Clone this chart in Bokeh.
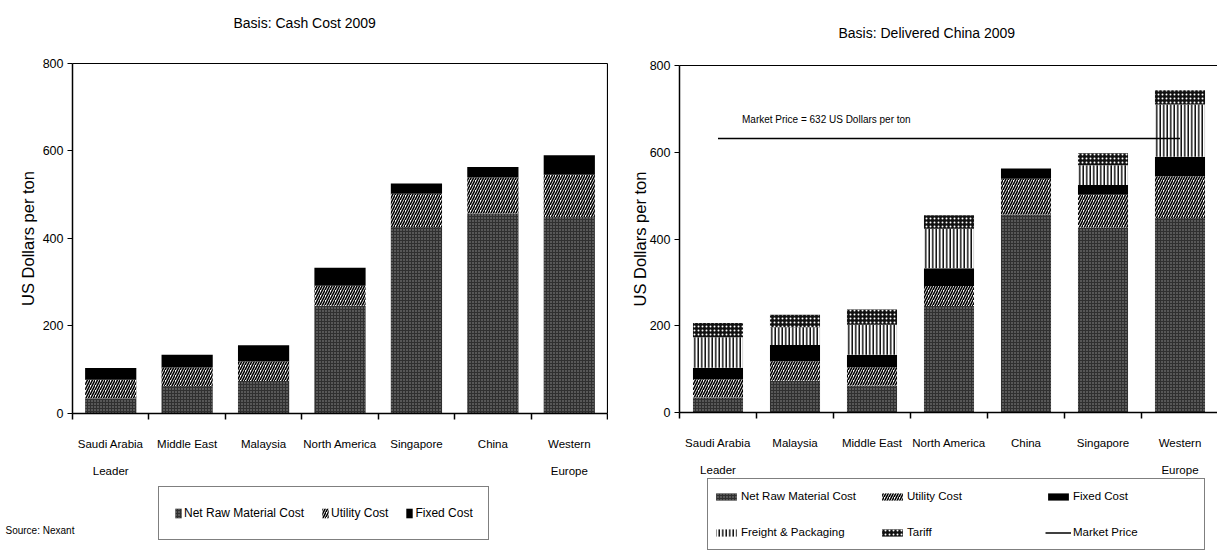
from bokeh.plotting import figure
from bokeh.models import (ColumnDataSource, FixedTicker, Legend, LegendItem,
                          Label, Range1d, LinearAxis)
from bokeh.layouts import row
from bokeh.embed import file_html
from bokeh.resources import INLINE

FONT = "Liberation Sans"

# ---------------- data: left chart (Basis: Cash Cost 2009) ----------------
left_title = "Basis: Cash Cost 2009"
left_categories = ["Saudi Arabia\nLeader", "Middle East", "Malaysia", "North America",
                   "Singapore", "China", "Western\nEurope"]
left_net_raw = [35, 63, 74, 246, 426, 457, 449]
left_utility = [42, 42, 45, 46, 76, 82, 96]
left_fixed = [27, 29, 37, 41, 23, 24, 45]

# ---------------- data: right chart (Basis: Delivered China 2009) ----------------
right_title = "Basis: Delivered China 2009"
right_categories = ["Saudi Arabia\nLeader", "Malaysia", "Middle East", "North America",
                    "China", "Singapore", "Western\nEurope"]
right_net_raw = [35, 74, 63, 246, 457, 426, 449]
right_utility = [42, 45, 42, 46, 82, 76, 96]
right_fixed = [27, 37, 29, 41, 24, 23, 45]
right_freight = [70, 41, 69, 91, 0, 45, 120]
right_tariff = [33, 29, 35, 31, 0, 28, 33]
market_price = 632

y_ticks = [0, 200, 400, 600, 800]
y_max = 800
y_label = "US Dollars per ton"
source_text = "Source: Nexant"

series_names = ["Net Raw Material Cost", "Utility Cost", "Fixed Cost",
                "Freight & Packaging", "Tariff"]

STY = {
    "Net Raw Material Cost": dict(fill_color="#303030", hatch_pattern="dot",
                                  hatch_color="#949494", hatch_scale=3, hatch_weight=1),
    "Utility Cost": dict(fill_color="white", hatch_pattern="right_diagonal_line",
                         hatch_color="black", hatch_scale=5, hatch_weight=1.6),
    "Fixed Cost": dict(fill_color="black", hatch_pattern="blank",
                       hatch_color="black", hatch_scale=5, hatch_weight=1),
    "Freight & Packaging": dict(fill_color="white", hatch_pattern="vertical_line",
                                hatch_color="black", hatch_scale=3.5, hatch_weight=1.4),
    "Tariff": dict(fill_color="#111111", hatch_pattern="dot",
                   hatch_color="white", hatch_scale=4, hatch_weight=1),
}


def make_fig(width, height, ax_left, px_per_cat, zero_px, top_px, n):
    """Frame covers the whole figure; axes are drawn at fixed locations."""
    px_per_unit = (zero_px - top_px) / y_max
    x0 = -0.5 - ax_left / px_per_cat
    x1 = -0.5 + (width - ax_left) / px_per_cat
    y1 = zero_px / px_per_unit
    y0 = -(height - zero_px) / px_per_unit
    p = figure(width=width, height=height, title=None,
               min_border_left=0, min_border_right=0, min_border_top=0,
               min_border_bottom=0, x_range=Range1d(x0, x1), y_range=Range1d(y0, y1),
               output_backend="svg", toolbar_location=None)
    p.xgrid.visible = False
    p.ygrid.visible = False
    p.outline_line_color = None
    p.background_fill_color = "white"
    p.border_fill_color = "white"
    return p, x1


def style_axes(p, labels, title_standoff):
    n = len(labels)
    ax = p.xaxis[0]
    ax.fixed_location = 0
    ax.bounds = (-0.5, n - 0.5)
    ax.ticker = FixedTicker(ticks=list(range(n)),
                            minor_ticks=[i - 0.5 for i in range(n + 1)])
    ax.major_label_overrides = {i: lab for i, lab in enumerate(labels)}
    ax.major_tick_line_color = None
    ax.major_tick_out = 0
    ax.major_tick_in = 0
    ax.minor_tick_line_color = "black"
    ax.minor_tick_line_width = 1.5
    ax.minor_tick_out = 6
    ax.minor_tick_in = 0
    ax.axis_line_color = "black"
    ax.axis_line_width = 1.5
    ax.major_label_standoff = 18
    ax.major_label_text_font = FONT
    ax.major_label_text_font_size = "11.5px"
    ax.major_label_text_color = "black"
    ax.major_label_text_line_height = 2.3

    ay = p.yaxis[0]
    ay.fixed_location = -0.5
    ay.bounds = (0, y_max)
    ay.ticker = FixedTicker(ticks=y_ticks)
    ay.minor_tick_line_color = None
    ay.major_tick_out = 5
    ay.major_tick_in = 0
    ay.major_tick_line_color = "black"
    ay.major_tick_line_width = 1.2
    ay.axis_line_color = "black"
    ay.axis_line_width = 1.5
    ay.major_label_standoff = 4
    ay.major_label_text_font = FONT
    ay.major_label_text_font_size = "12.5px"
    ay.major_label_text_color = "black"
    ay.axis_label = y_label
    ay.axis_label_text_font = FONT
    ay.axis_label_text_font_size = "16.5px"
    ay.axis_label_text_font_style = "normal"
    ay.axis_label_text_color = "black"
    ay.axis_label_standoff = title_standoff


def border_axis(p, side, loc, bounds):
    a = LinearAxis(fixed_location=loc, bounds=bounds, ticker=FixedTicker(ticks=[]),
                   major_tick_line_color=None, minor_tick_line_color=None,
                   major_label_text_font_size="0px", axis_line_color="black",
                   axis_line_width=1.2)
    p.add_layout(a, side)


def stack(p, names, data, width):
    src = ColumnDataSource(dict(x=list(range(len(data[0]))),
                                **{nm: vals for nm, vals in zip(names, data)}))
    rs = p.vbar_stack(names, x="x", width=width, source=src, line_color=None,
                      fill_color=[STY[nm]["fill_color"] for nm in names],
                      hatch_pattern=[STY[nm]["hatch_pattern"] for nm in names],
                      hatch_color=[STY[nm]["hatch_color"] for nm in names],
                      hatch_scale=[STY[nm]["hatch_scale"] for nm in names],
                      hatch_weight=[STY[nm]["hatch_weight"] for nm in names])
    return rs


def add_text(p, text, x, y, dx, dy, size):
    p.add_layout(Label(x=x, y=y, x_offset=dx, y_offset=dy, text=text,
                       text_font=FONT, text_font_size=size, text_baseline="middle",
                       text_align="left", text_color="black"))


# ---------------- left figure ----------------
n_left = len(left_categories)
p1, p1_xend = make_fig(608, 551, 72, 76.43, 413, 62.7, n_left)
style_axes(p1, left_categories, 3)
border_axis(p1, "above", y_max, (-0.5, n_left - 0.5))
border_axis(p1, "right", n_left - 0.5, (0, y_max))
left_names = series_names[:3]
r1 = stack(p1, left_names, [left_net_raw, left_utility, left_fixed], 0.67)

leg1 = Legend(items=[LegendItem(label=nm, renderers=[r]) for nm, r in zip(left_names, r1)],
              orientation="horizontal", location=(158, 11), margin=0, padding=15,
              spacing=17, glyph_width=8, glyph_height=12, label_standoff=2,
              label_height=22, label_text_font=FONT, label_text_font_size="12px",
              label_text_color="black", border_line_color="black",
              border_line_width=1.5, background_fill_color="white",
              background_fill_alpha=1)
p1.add_layout(leg1, "center")

add_text(p1, left_title, -0.5, y_max, 161, 40, "14px")
add_text(p1, source_text, -0.5, 0, -67, -117, "10px")

# ---------------- right figure ----------------
n_right = len(right_categories)
p2, p2_xend = make_fig(609, 551, 71, 77.0, 412.3, 65, n_right)
style_axes(p2, right_categories, -2)
border_axis(p2, "above", y_max, (-0.5, p2_xend))
r2 = stack(p2, series_names, [right_net_raw, right_utility, right_fixed,
                              right_freight, right_tariff], 0.65)
mline = p2.line(x=[0, n_right - 1], y=[market_price, market_price],
                line_color="black", line_width=1.5)
add_text(p2, f"Market Price = {market_price} US Dollars per ton", 0, market_price,
         24, 19, "10px")
add_text(p2, right_title, -0.5, y_max, 159, 33, "14px")

items2 = [LegendItem(label=nm, renderers=[r]) for nm, r in zip(series_names, r2)]
items2.append(LegendItem(label="Market Price", renderers=[mline]))
leg2 = Legend(items=items2, orientation="horizontal", ncols=3,
              location=(99, 1), margin=0, padding=5, spacing=12,
              glyph_width=26, glyph_height=9, label_standoff=2,
              label_width=126, label_height=24,
              label_text_font=FONT, label_text_font_size="11.5px",
              label_text_color="black", border_line_color="black",
              border_line_width=1.5, background_fill_color="white",
              background_fill_alpha=1)
p2.add_layout(leg2, "center")

layout = row(p1, p2, spacing=0)
open("out.html", "w").write(file_html(layout, INLINE))
